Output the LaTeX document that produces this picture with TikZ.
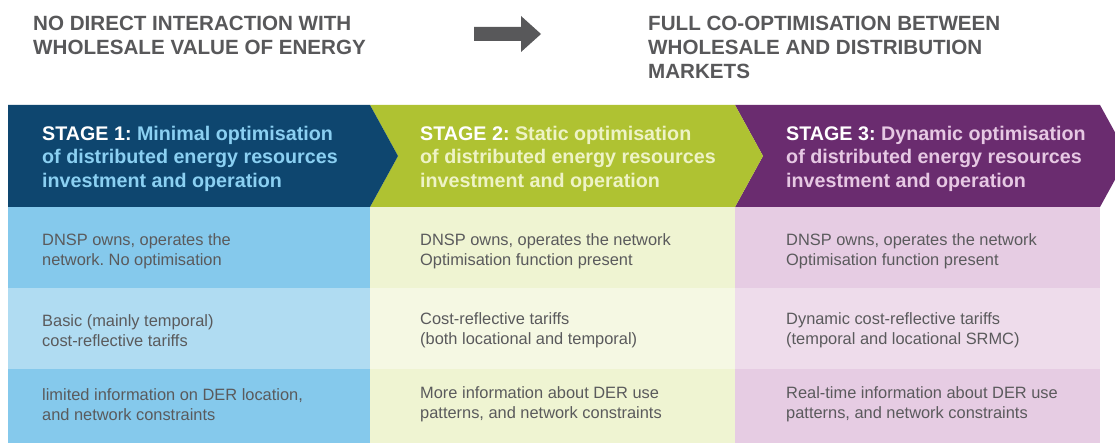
\documentclass[tikz,border=0pt]{standalone}
\usepackage{fontspec}
\setmainfont{Liberation Sans}
\frenchspacing
\definecolor{hdgray}{HTML}{58585A}
\definecolor{txgray}{HTML}{5A5A5C}
\definecolor{sblue}{HTML}{0E466F}
\definecolor{sgreen}{HTML}{AFC232}
\definecolor{spurple}{HTML}{6A2C6F}
\definecolor{tblue}{HTML}{8BD0F2}
\definecolor{tgreen}{HTML}{EEF3C6}
\definecolor{tpurple}{HTML}{E6C8E3}
\definecolor{blueA}{HTML}{85C9EC}
\definecolor{blueB}{HTML}{B0DCF2}
\definecolor{greenA}{HTML}{EFF4D2}
\definecolor{greenB}{HTML}{F5F8E3}
\definecolor{purpleA}{HTML}{E6CCE3}
\definecolor{purpleB}{HTML}{EEDCEB}
\tikzset{
  toptext/.style={anchor=west, align=left, inner sep=0pt, text=hdgray,
    font=\fontsize{20.6}{24}\selectfont\bfseries},
  stagetext/.style={anchor=west, align=left, inner sep=0pt,
    font=\fontsize{19.7}{23.5}\selectfont\bfseries},
  celltext/.style={anchor=west, align=left, inner sep=0pt, text=txgray,
    font=\fontsize{16.4}{20}\selectfont},
}
\begin{document}
\begin{tikzpicture}[x=1pt,y=-1pt]
\useasboundingbox (0,0) rectangle (1115,443);
\clip (0,0) rectangle (1115,443);
\fill[white] (0,0) rectangle (1115,443);

% headline texts and progression arrow
\node[toptext] (left) at (33,35) {NO DIRECT INTERACTION WITH\\WHOLESALE VALUE OF ENERGY};
\node[toptext] (right) at (648,47) {FULL CO-OPTIMISATION BETWEEN\\WHOLESALE AND DISTRIBUTION\\MARKETS};
\fill[hdgray] (474,27) -- (521,27) -- (521,16) -- (541,34) -- (521,52) -- (521,41) -- (474,41) -- cycle;

% table body cells
\fill[blueA]   (8,207)   rectangle (370,288);
\fill[blueB]   (8,288)   rectangle (370,369);
\fill[blueA]   (8,369)   rectangle (370,443);
\fill[greenA]  (370,207) rectangle (735,288);
\fill[greenB]  (370,288) rectangle (735,369);
\fill[greenA]  (370,369) rectangle (735,443);
\fill[purpleA] (735,207) rectangle (1100,288);
\fill[purpleB] (735,288) rectangle (1100,369);
\fill[purpleA] (735,369) rectangle (1100,443);

% stage chevrons
\fill[spurple] (735,105) -- (1100,105) -- (1128,156) -- (1100,207) -- (735,207) -- (763,156) -- cycle;
\fill[sgreen]  (370,105) -- (735,105) -- (763,156) -- (735,207) -- (370,207) -- (398,156) -- cycle;
\fill[sblue]   (8,105) -- (370,105) -- (398,156) -- (370,207) -- (8,207) -- cycle;

% stage headings
\node[stagetext, text=tblue] (s1) at (42,158.5)
  {\textcolor{white}{STAGE 1:} Minimal optimisation\\of distributed energy resources\\investment and operation};
\node[stagetext, text=tgreen] (s2) at (420,158.5)
  {\textcolor{white}{STAGE 2:} Static optimisation\\of distributed energy resources\\investment and operation};
\node[stagetext, text=tpurple] (s3) at (786,158.5)
  {\textcolor{white}{STAGE 3:} Dynamic optimisation\\of distributed energy resources\\investment and operation};

% cell texts
\node[celltext] (a1) at (42,251.5) {DNSP owns, operates the\\network. No optimisation};
\node[celltext] (a2) at (42,330.5) {Basic (mainly temporal)\\cost-reflective tariffs};
\node[celltext] (a3) at (42,404.5) {limited information on DER location,\\and network constraints};
\node[celltext] (b1) at (420,251.5) {DNSP owns, operates the network\\Optimisation function present};
\node[celltext] (b2) at (420,330.5) {Cost-reflective tariffs\\(both locational and temporal)};
\node[celltext] (b3) at (420,404.5) {More information about DER use\\patterns, and network constraints};
\node[celltext] (c1) at (786,251.5) {DNSP owns, operates the network\\Optimisation function present};
\node[celltext] (c2) at (786,330.5) {Dynamic cost-reflective tariffs\\(temporal and locational SRMC)};
\node[celltext] (c3) at (786,404.5) {Real-time information about DER use\\patterns, and network constraints};
\end{tikzpicture}
\end{document}
